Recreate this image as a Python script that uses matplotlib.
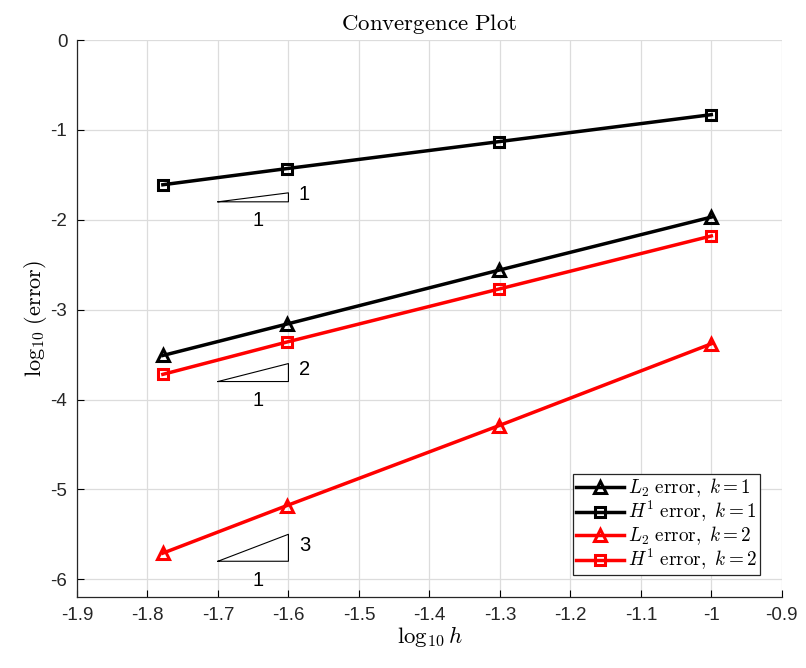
import numpy as np
import matplotlib
matplotlib.use('Agg')
import matplotlib.pyplot as plt

plt.rcParams['mathtext.fontset'] = 'cm'
plt.rcParams['font.family'] = ['Liberation Sans', 'DejaVu Sans']

# log10 h for h = 1/60, 1/40, 1/20, 1/10
log_h = np.log10([1 / 60, 1 / 40, 1 / 20, 1 / 10])

# log10 of errors
L2_k1 = [-3.51, -3.16, -2.56, -1.97]
H1_k1 = [-1.61, -1.43, -1.13, -0.83]
L2_k2 = [-5.71, -5.18, -4.29, -3.38]
H1_k2 = [-3.72, -3.36, -2.77, -2.18]

# slope triangles: (bottom y, rate)
tri_base = [-1.8, -3.8, -5.8]
tri_rate = [1, 2, 3]
tri_x = [-1.7, -1.6]

fig = plt.figure(figsize=(8.06, 6.68), dpi=100)
ax = fig.add_axes([0.0955, 0.106, 0.8745, 0.834])

lw = 2.5
ax.plot(log_h, L2_k1, color='k', lw=lw, marker='^', ms=8, mfc='none', mew=2.2,
        label=r'$L_2\ \mathrm{error},\ k=1$')
ax.plot(log_h, H1_k1, color='k', lw=lw, marker='s', ms=7, mfc='none', mew=2.2,
        label=r'$H^1\ \mathrm{error},\ k=1$')
ax.plot(log_h, L2_k2, color='r', lw=lw, marker='^', ms=8, mfc='none', mew=2.2,
        label=r'$L_2\ \mathrm{error},\ k=2$')
ax.plot(log_h, H1_k2, color='r', lw=lw, marker='s', ms=7, mfc='none', mew=2.2,
        label=r'$H^1\ \mathrm{error},\ k=2$')

# slope triangles
for y0, r in zip(tri_base, tri_rate):
    dx = tri_x[1] - tri_x[0]
    ax.plot([tri_x[0], tri_x[1], tri_x[1], tri_x[0]],
            [y0, y0, y0 + r * dx, y0], color='k', lw=0.8)
    ax.text(tri_x[1] + 0.015, y0 + r * dx / 2 + 0.03, str(r), fontsize=14.5,
            ha='left', va='center')
    ax.text(-1.643, y0 - 0.21, '1', fontsize=14.5, ha='center', va='center')

ax.set_xlim(-1.9, -0.9)
ax.set_ylim(-6.2, 0)
ax.set_xticks(np.arange(-1.9, -0.85, 0.1))
ax.set_xticklabels(['%g' % round(v, 1) for v in np.arange(-1.9, -0.85, 0.1)])
ax.set_yticks(np.arange(-6, 0.5, 1))
ax.set_yticklabels(['%d' % v for v in np.arange(-6, 0.5, 1)])
ax.tick_params(direction='in', labelsize=13.5, length=5, width=0.8, pad=7,
               labelcolor='#262626')
ax.grid(True, color='#dcdcdc', lw=0.9)
ax.set_axisbelow(True)
for s in ['top', 'right']:
    ax.spines[s].set_visible(False)
for s in ['left', 'bottom']:
    ax.spines[s].set_linewidth(0.9)
    ax.spines[s].set_color('#262626')

ax.set_xlabel(r'$\log_{10}h$', fontsize=16.5, labelpad=0)
ax.set_ylabel(r'$\log_{10}\,(\mathrm{error})$', fontsize=16, labelpad=1)
ax.set_title(r'$\mathrm{Convergence\ Plot}$', fontsize=16.5, pad=7)

leg = ax.legend(loc='lower right', fontsize=13.8, fancybox=False, framealpha=1,
                edgecolor='#262626', handlelength=2.5, borderpad=0.15,
                labelspacing=0.0, handletextpad=0.2, borderaxespad=1.15)
leg.get_frame().set_linewidth(0.9)

fig.savefig('out.png', dpi=100)
